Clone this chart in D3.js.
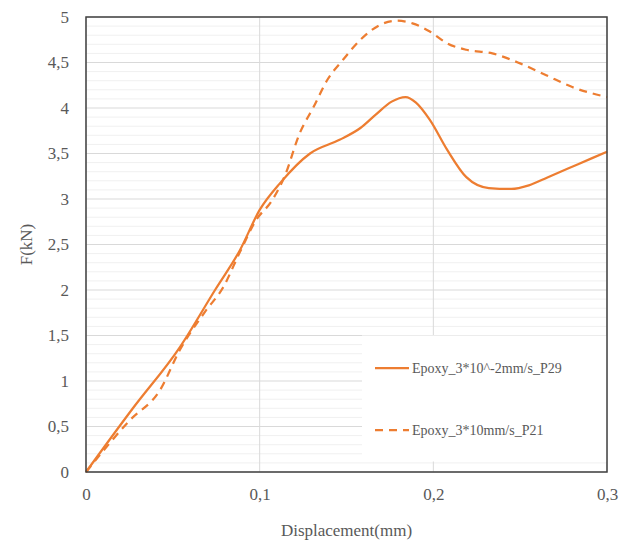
<!DOCTYPE html>
<html>
<head>
<meta charset="utf-8">
<script src="https://cdn.jsdelivr.net/npm/d3@7"></script>
<style>
  body { margin: 0; background: #fff; }
  svg { display: block; }
</style>
</head>
<body>
<div id="chart"></div>
<script>
// Displacement (mm) and force (kN)
const dispSlow = [0, 0.027, 0.054, 0.0743, 0.0887, 0.1, 0.112, 0.129, 0.146, 0.158, 0.167, 0.176, 0.184, 0.19, 0.198, 0.208, 0.219, 0.232, 0.245, 0.255, 0.266, 0.283, 0.3];
const forceSlow = [0, 0.7, 1.37, 2.0, 2.44, 2.88, 3.18, 3.5, 3.65, 3.78, 3.93, 4.07, 4.12, 4.06, 3.87, 3.54, 3.24, 3.12, 3.11, 3.15, 3.24, 3.38, 3.52];
const dispFast = [0, 0.0253, 0.0426, 0.054, 0.0685, 0.079, 0.0887, 0.098, 0.107, 0.1146, 0.123, 0.131, 0.139, 0.148, 0.158, 0.169, 0.179, 0.188, 0.198, 0.208, 0.219, 0.234, 0.25, 0.265, 0.28, 0.3];
const forceFast = [0, 0.57, 0.9, 1.34, 1.76, 2.03, 2.42, 2.77, 2.98, 3.26, 3.72, 4.01, 4.31, 4.53, 4.75, 4.91, 4.96, 4.93, 4.84, 4.71, 4.64, 4.6, 4.49, 4.36, 4.23, 4.12];

const seriesNames = ["Epoxy_3*10^-2mm/s_P29", "Epoxy_3*10mm/s_P21"];
const xTicks = [0, 0.1, 0.2, 0.3];
const yTicks = [0, 0.5, 1, 1.5, 2, 2.5, 3, 3.5, 4, 4.5, 5];

const width = 633, height = 547;
const margin = {top: 17, right: 26, bottom: 75, left: 86};
const orange = "#ED7D31";
const textColor = "#595959";
const font = "'Liberation Serif', 'Times New Roman', serif";

const svg = d3.select("#chart").append("svg")
    .attr("width", width)
    .attr("height", height);

const x = d3.scaleLinear().domain([0, 0.3]).range([margin.left, width - margin.right]);
const y = d3.scaleLinear().domain([0, 5]).range([height - margin.bottom, margin.top]);

const comma = v => String(v).replace(".", ",");

// minor horizontal grid (faint)
svg.append("g")
    .selectAll("line")
    .data(d3.range(0, 50).map(i => i / 10).filter(v => Math.round(v * 10) % 5 !== 0))
    .join("line")
    .attr("x1", x(0)).attr("x2", x(0.3))
    .attr("y1", d => y(d)).attr("y2", d => y(d))
    .attr("stroke", "#f0f0f0")
    .attr("stroke-width", 1);

// major grid
svg.append("g")
    .selectAll("line")
    .data(yTicks)
    .join("line")
    .attr("x1", x(0)).attr("x2", x(0.3))
    .attr("y1", d => y(d)).attr("y2", d => y(d))
    .attr("stroke", "#d9d9d9")
    .attr("stroke-width", 1);

svg.append("g")
    .selectAll("line")
    .data(xTicks)
    .join("line")
    .attr("x1", d => x(d)).attr("x2", d => x(d))
    .attr("y1", y(0)).attr("y2", y(5))
    .attr("stroke", "#d9d9d9")
    .attr("stroke-width", 1);

// axes (labels only, no tick marks)
const xAxis = svg.append("g")
    .attr("transform", `translate(0,${y(0)})`)
    .call(d3.axisBottom(x).tickValues(xTicks).tickFormat(comma).tickSize(0).tickPadding(16));
const yAxis = svg.append("g")
    .attr("transform", `translate(${x(0)},0)`)
    .call(d3.axisLeft(y).tickValues(yTicks).tickFormat(comma).tickSize(0).tickPadding(17));

[xAxis, yAxis].forEach(a => {
    a.select(".domain").remove();
    a.attr("font-family", null).attr("font-size", null);
    a.selectAll("text")
        .attr("fill", textColor)
        .style("font-family", font)
        .style("font-size", "17px");
});

// legend box, drawn under the curves
const legend = svg.append("g");
legend.append("rect")
    .attr("x", 362).attr("y", y(1.5))
    .attr("width", x(0.3) - 362).attr("height", 126)
    .attr("fill", "#fff");

const line = (xs, ys) => d3.line()
    .x(i => x(xs[i]))
    .y(i => y(ys[i]))
    .curve(d3.curveMonotoneX)(d3.range(xs.length));

svg.append("path")
    .attr("d", line(dispSlow, forceSlow))
    .attr("fill", "none")
    .attr("stroke", orange)
    .attr("stroke-width", 2.25);

svg.append("path")
    .attr("d", line(dispFast, forceFast))
    .attr("fill", "none")
    .attr("stroke", orange)
    .attr("stroke-width", 2.25)
    .attr("stroke-dasharray", "8,6");

// plot frame
svg.append("rect")
    .attr("x", x(0)).attr("y", y(5))
    .attr("width", x(0.3) - x(0)).attr("height", y(0) - y(5))
    .attr("fill", "none")
    .attr("stroke", "#404040")
    .attr("stroke-width", 1.5);

const legendRows = [{name: seriesNames[0], y: 368, dash: null}, {name: seriesNames[1], y: 430, dash: "8,6"}];
legendRows.forEach(r => {
    legend.append("line")
        .attr("x1", 375).attr("x2", 409)
        .attr("y1", r.y).attr("y2", r.y)
        .attr("stroke", orange)
        .attr("stroke-width", 2.25)
        .attr("stroke-dasharray", r.dash);
    legend.append("text")
        .attr("x", 412).attr("y", r.y)
        .attr("dy", "0.35em")
        .attr("fill", textColor)
        .style("font-family", font)
        .style("font-size", "14px")
        .text(r.name);
});

// axis titles
svg.append("text")
    .attr("x", (x(0) + x(0.3)) / 2)
    .attr("y", 536)
    .attr("text-anchor", "middle")
    .attr("fill", textColor)
    .style("font-family", font)
    .style("font-size", "17px")
    .text("Displacement(mm)");

svg.append("text")
    .attr("transform", `translate(32,${(y(0) + y(5)) / 2}) rotate(-90)`)
    .attr("text-anchor", "middle")
    .attr("fill", textColor)
    .style("font-family", font)
    .style("font-size", "17px")
    .text("F(kN)");
</script>
</body>
</html>
